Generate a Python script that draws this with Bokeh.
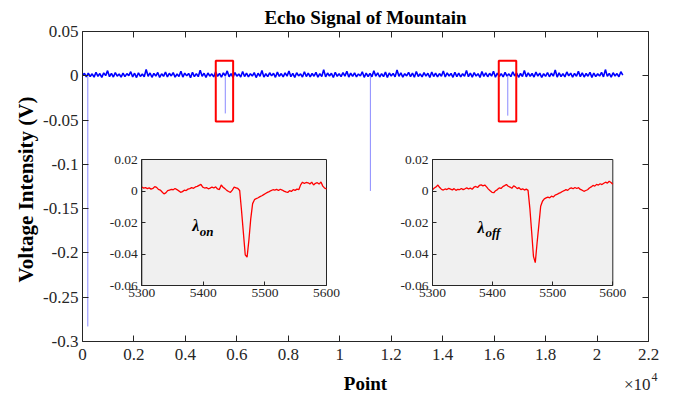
from bokeh.plotting import figure
from bokeh.models import Range1d, LinearAxis, FixedTicker, Label
from bokeh.embed import file_html
from bokeh.resources import INLINE

# ---------------- data ----------------
# main echo signal, sampled every 75 points (values in mV)
signal_step = 75
signal_mV = [
    0.5, 2.8, -1.2, 3.1, -0.8, 2.2, -1.5, 4.0, -0.6, 2.5, -1.8, 3.3, 0.2, 5.8, -1.0, 2.7, -1.4, 3.6, -0.4, 2.0,
    -1.6, 3.0, -0.9, 2.4, 0.1, 4.6, -1.3, 2.9, -2.0, 3.4, -0.7, 2.1, -1.1, 7.2, -0.5, 3.2, -1.7, 2.6, -0.3, 3.8,
    -1.9, 2.3, -0.6, 4.2, -1.2, 2.8, -0.2, 3.5, -1.5, 2.0, -0.8, 5.1, -1.4, 3.0, -0.1, 2.7, -2.1, 3.9, -0.9, 2.4,
    -1.0, 6.3, -0.6, 2.9, -1.8, 3.1, -0.4, 2.2, -1.3, 4.4, -0.7, 2.6, -1.6, 3.3, 0.0, 5.5, -1.1, 2.5, -1.9, 3.7,
    -0.5, 2.1, -1.4, 4.8, -0.8, 3.0, -1.2, 2.4, -0.3, 3.6, -2.0, 2.9, -0.6, 6.0, -1.5, 2.3, -0.9, 3.4, -0.1, 2.8,
    -1.7, 4.1, -0.7, 2.5, -1.3, 3.2, -0.4, 5.3, -1.0, 2.7, -1.8, 3.5, -0.2, 2.2, -1.4, 4.6, -0.8, 3.0, -1.1, 2.6,
    -0.5, 3.9, -1.6, 2.4, -0.9, 6.8, -1.2, 3.1, -0.3, 2.8, -1.9, 4.0, -0.6, 2.3, -1.0, 3.6, -0.4, 5.0, -1.5, 2.9,
    -0.7, 3.3, -1.3, 2.1, -0.2, 4.5, -1.7, 3.0, -0.8, 2.6, -1.1, 5.7, -0.5, 3.4, -1.4, 2.5, -0.9, 4.2, -1.8, 3.1,
    -0.3, 2.7, -1.2, 6.5, -0.6, 3.2, -1.5, 2.4, -0.1, 3.8, -1.0, 2.9, -1.6, 4.9, -0.7, 2.2, -1.3, 3.5, -0.4, 2.8,
    -1.9, 4.3, -0.8, 3.0, -1.1, 2.5, -0.5, 5.4, -1.4, 3.3, -0.2, 2.6, -1.7, 4.0, -0.9, 3.1, -1.2, 2.3, -0.6, 6.1,
    -1.0, 2.9, -1.5, 3.6, -0.3, 2.4, -1.8, 4.7, -0.7, 3.2, -1.1, 2.8, -0.4, 5.2, -1.6, 3.0, -0.8, 2.5, -1.3, 3.9,
    -0.5, 2.2, -1.0, 4.4, -0.2, 3.1, -1.7, 2.7, -0.9, 5.9, -1.2, 3.4, -0.6, 2.6, -1.4, 4.1, -0.3, 3.0, -1.9, 2.4,
    -0.7, 3.7, -1.1, 2.9, -0.4, 6.6, -1.5, 3.2, -0.8, 2.5, -1.2, 4.3, -0.1, 3.0, -1.6, 2.7, -0.6, 5.0, -1.0, 3.3,
    -1.4, 2.6, -0.5, 4.0, -1.8, 3.1, -0.9, 2.3, -0.3, 3.8, -1.2, 7.0, -0.7, 2.8, -1.5, 3.4, -0.2, 2.5, -1.1, 4.6,
    0.8,
]
# echo spikes (point index, depth in V)
echo_points = [206, 5550, 11190, 16530]
echo_depth = [-0.283, -0.0425, -0.13, -0.045]

# red marker boxes
box_left = [5180, 16180]
box_right = [5855, 16860]
box_top = [0.017, 0.017]
box_bottom = [-0.0515, -0.0515]

title_text = "Echo Signal of Mountain"
x_label_text = "Point"
y_label_text = "Voltage Intensity (V)"
x_multiplier_base = "×10"
x_multiplier_exp = "4"
main_x_ticks = [0, 2000, 4000, 6000, 8000, 10000, 12000, 14000, 16000, 18000, 20000, 22000]
main_x_labels = ["0", "0.2", "0.4", "0.6", "0.8", "1", "1.2", "1.4", "1.6", "1.8", "2", "2.2"]
main_y_ticks = [0.05, 0, -0.05, -0.1, -0.15, -0.2, -0.25, -0.3]
main_y_labels = ["0.05", "0", "-0.05", "-0.1", "-0.15", "-0.2", "-0.25", "-0.3"]

# insets: samples every 3 points from 5300 (values in mV)
inset_start = 5300
inset_step = 3
on_mV = [
    2.5, 1.8, 2.2, 1.5, 2.0, 1.2, 1.6, 2.8, 2.3, 1.0,
    0.6, -0.6, -1.8, -1.2, 0.2, 0.6, 1.0, 0.8, 1.6, 0.9,
    0.1, -0.8, -0.4, 0.5, 0.3, 1.2, 1.5, 2.1, 1.7, 2.6,
    2.9, 3.6, 4.2, 2.4, 1.9, 2.2, 1.4, 1.8, 2.5, 1.9,
    2.6, 1.3, 0.9, 3.8, 2.4, 1.5, 0.4, -0.3, -0.9, 0.6,
    2.4, 2.0, 1.6, 0.3, -12.5, -26.5, -40.5, -42.0, -31.0, -17.5,
    -8.0, -5.5, -4.8, -4.3, -3.6, -3.0, -2.3, -1.6, -0.9, -0.4,
    0.3, 0.8, 0.5, 1.0, 0.3, 1.1, 0.6, -0.1, -0.6, -0.9,
    0.2, -0.3, 0.9, 0.4, 1.2, 0.8, 3.9, 5.6, 4.8, 5.4,
    5.2, 4.5, 5.6, 3.8, 4.9, 5.3, 4.4, 5.7, 3.1, 1.8,
    1.4,
]
off_mV = [
    0.8, 1.9, 2.6, 3.8, 2.2, 1.0, 0.6, 1.3, 0.9, 1.7,
    1.2, 0.7, 1.5, 0.4, 1.1, 0.8, 1.6, 0.9, 1.4, 2.0,
    1.3, 1.8, 1.1, 2.4, 2.9, 2.2, 3.5, 3.9, 3.3, 3.8,
    2.6, 1.2, 0.1, -0.8, -1.1, 0.2, 0.9, 2.0, 1.6, 2.8,
    3.4, 4.1, 3.0, 2.5, 1.7, 3.3, 2.6, 1.5, 2.1, 0.9,
    1.4, 0.6, 1.2, 0.4, -11.0, -26.0, -41.5, -45.5, -33.0, -21.5,
    -9.7, -6.5, -5.0, -4.4, -3.9, -4.3, -3.3, -3.8, -2.6, -2.2,
    -1.5, -1.0, -0.3, 0.2, 0.9, 0.4, 1.5, 2.0, 1.4, 2.2,
    1.6, 2.1, 1.0, 0.5, -0.2, 0.3, 0.8, 1.9, 2.6, 3.5,
    3.1, 4.2, 3.8, 4.6, 4.1, 4.9, 5.6, 5.0, 6.2, 5.4,
    4.3,
]
inset_x_ticks = [5300, 5400, 5500, 5600]
inset_y_ticks = [0.02, 0, -0.02, -0.04, -0.06]
inset_y_labels = ["0.02", "0", "-0.02", "-0.04", "-0.06"]

# ---------------- layout (canvas pixels) ----------------
CANVAS_W, CANVAS_H = 673, 397
MAIN_PX = (82.0, 648.0)
MAIN_PY = (31.0, 341.0)
INSET1_PX = (141.3, 326.0)
INSET2_PX = (432.0, 612.3)
INSET_PY = (159.0, 285.0)
FONT = "Liberation Serif"
DARK = "#262626"


def range_x(d0, d1, p0, p1):
    s = (d1 - d0) / (p1 - p0)
    start = d0 - p0 * s
    return Range1d(start=start, end=start + CANVAS_W * s)


def range_y(d_bot, d_top, p_top, p_bot):
    s = (d_top - d_bot) / (p_bot - p_top)
    start = d_bot - (CANVAS_H - p_bot) * s
    return Range1d(start=start, end=start + CANVAS_H * s)


# the plotting frame covers the whole canvas; every axis is placed with fixed_location
p = figure(width=CANVAS_W, height=CANVAS_H,
           x_range=range_x(main_x_ticks[0], main_x_ticks[-1], *MAIN_PX),
           y_range=range_y(main_y_ticks[-1], main_y_ticks[0], *MAIN_PY),
           x_axis_type=None, y_axis_type=None, title=None,
           min_border=0, output_backend="svg", toolbar_location=None)
p.outline_line_color = None
p.background_fill_color = "white"
p.border_fill_color = "white"
p.grid.visible = False

p.extra_x_ranges = {
    "in1x": range_x(inset_x_ticks[0], inset_x_ticks[-1], *INSET1_PX),
    "in2x": range_x(inset_x_ticks[0], inset_x_ticks[-1], *INSET2_PX),
}
p.extra_y_ranges = {"iny": range_y(inset_y_ticks[-1], inset_y_ticks[0], *INSET_PY)}


def style_axis(ax, size, tick_len, standoff, show_labels=True):
    ax.axis_line_color = DARK
    ax.major_tick_line_color = DARK
    ax.major_tick_in = tick_len
    ax.major_tick_out = 0
    ax.minor_tick_line_color = None
    ax.major_label_text_font = FONT
    ax.major_label_text_font_size = size
    ax.major_label_text_color = DARK
    ax.major_label_standoff = standoff
    if not show_labels:
        ax.major_label_text_alpha = 0


def add_axes(xr, yr, xticks, yticks, xlabels, ylabels, size, tick_len, xs, ys, mirror):
    kw = {}
    if xr:
        kw["x_range_name"] = xr
    if yr:
        kw["y_range_name"] = yr
    xb = (xticks[0], xticks[-1])
    yb = (yticks[-1], yticks[0])
    bottom = LinearAxis(fixed_location=yb[0], bounds=xb, ticker=FixedTicker(ticks=xticks), **kw)
    if xlabels:
        bottom.major_label_overrides = dict(zip(xticks, xlabels))
    style_axis(bottom, size, tick_len, xs)
    p.add_layout(bottom, "below")
    left = LinearAxis(fixed_location=xb[0], bounds=yb, ticker=FixedTicker(ticks=yticks),
                      major_label_overrides=dict(zip(yticks, ylabels)), **kw)
    style_axis(left, size, tick_len, ys)
    p.add_layout(left, "left")
    if mirror:
        top = LinearAxis(fixed_location=yb[1], bounds=xb, ticker=FixedTicker(ticks=xticks), **kw)
        style_axis(top, size, tick_len, xs, show_labels=False)
        p.add_layout(top, "above")
        right = LinearAxis(fixed_location=xb[1], bounds=yb, ticker=FixedTicker(ticks=yticks), **kw)
        style_axis(right, size, tick_len, ys, show_labels=False)
        p.add_layout(right, "right")


def canvas_label(x, y, text, size, style="normal", align="center", baseline="middle",
                 angle=0, color="black"):
    p.add_layout(Label(x=x, y=y, x_units="canvas", y_units="canvas", text=text,
                       text_font=FONT, text_font_size=size, text_font_style=style,
                       text_align=align, text_baseline=baseline, text_color=color,
                       angle=angle, angle_units="deg"))


# main axes box
add_axes(None, None, main_x_ticks, main_y_ticks, main_x_labels, main_y_labels,
         "17px", 6, 7, 4, mirror=True)

# main signal
sig_x = [i * signal_step for i in range(len(signal_mV))]
sig_y = [v / 1000.0 for v in signal_mV]
p.line(sig_x, sig_y, line_color="#0000ff", line_width=1.6)
p.segment(x0=echo_points, y0=[0.0] * len(echo_points), x1=echo_points, y1=echo_depth,
          line_color="#8a8aff", line_width=1)
p.quad(left=box_left, right=box_right, top=box_top, bottom=box_bottom,
       fill_color=None, line_color="#ff0000", line_width=2)

# insets
inset_x = [inset_start + i * inset_step for i in range(len(on_mV))]
for rng, vals in (("in1x", on_mV), ("in2x", off_mV)):
    p.quad(left=[inset_x_ticks[0]], right=[inset_x_ticks[-1]],
           bottom=[inset_y_ticks[-1]], top=[inset_y_ticks[0]],
           x_range_name=rng, y_range_name="iny",
           fill_color="#f0f0f0", line_color=DARK, line_width=1)
    p.line(inset_x, [v / 1000.0 for v in vals], x_range_name=rng, y_range_name="iny",
           line_color="#ff0000", line_width=1.3)
    add_axes(rng, "iny", inset_x_ticks, inset_y_ticks, None, inset_y_labels,
             "13.5px", 4, 3, 4, mirror=False)


# lambda labels
def lam(rng, x, y, sub, xs, ys):
    p.add_layout(Label(x=x, y=y, x_range_name=rng, y_range_name="iny", text="λ",
                       text_font=FONT, text_font_style="bold italic",
                       text_font_size="16px", text_baseline="alphabetic", text_color="black"))
    p.add_layout(Label(x=xs, y=ys, x_range_name=rng, y_range_name="iny", text=sub,
                       text_font=FONT, text_font_style="bold italic",
                       text_font_size="13px", text_baseline="alphabetic", text_color="black"))


lam("in1x", 5382, -0.0222, "on", 5394, -0.0258)
lam("in2x", 5375, -0.0232, "off", 5388, -0.0265)

# titles and axis labels
mid_x = (MAIN_PX[0] + MAIN_PX[1]) / 2
canvas_label(mid_x, 17, title_text, "19px", style="bold")
canvas_label(mid_x, 383, x_label_text, "19px", style="bold")
canvas_label(25, 189, y_label_text, "21px", style="bold", angle=90)
canvas_label(MAIN_PX[1] + 2, 384, x_multiplier_base, "17px", align="right", color=DARK)
canvas_label(MAIN_PX[1] + 3, 376, x_multiplier_exp, "12px", align="left", color=DARK)

open("out.html", "w").write(file_html(p, INLINE))
